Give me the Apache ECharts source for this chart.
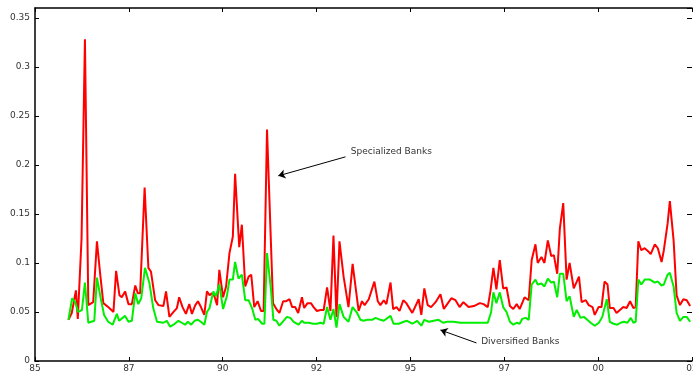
<!DOCTYPE html>
<html>
<head>
<meta charset="utf-8">
<script src="https://cdn.jsdelivr.net/npm/echarts@6/dist/echarts.min.js"></script>
<style>html,body{margin:0;padding:0;background:#fff}#c{width:693px;height:376px}</style>
</head>
<body>
<div id="c"></div>
<script>
// Specialized banks (red)
const specYears = [1985.89,1985.98,1986.09,1986.14,1986.24,1986.33,1986.42,1986.55,1986.65,1986.73,1986.82,1986.95,1987.09,1987.16,1987.25,1987.31,1987.40,1987.49,1987.58,1987.67,1987.74,1987.80,1987.92,1988.02,1988.09,1988.20,1988.29,1988.42,1988.49,1988.58,1988.69,1988.78,1988.84,1988.93,1989.02,1989.11,1989.18,1989.27,1989.34,1989.42,1989.51,1989.58,1989.65,1989.71,1989.78,1989.85,1989.91,1990.01,1990.09,1990.18,1990.27,1990.33,1990.44,1990.51,1990.60,1990.69,1990.76,1990.84,1990.93,1991.02,1991.09,1991.18,1991.34,1991.43,1991.51,1991.61,1991.69,1991.78,1991.85,1991.93,1992.01,1992.11,1992.17,1992.26,1992.35,1992.42,1992.51,1992.60,1992.69,1992.78,1992.87,1992.95,1993.03,1993.11,1993.22,1993.35,1993.46,1993.55,1993.62,1993.71,1993.78,1993.89,1994.04,1994.13,1994.20,1994.29,1994.36,1994.47,1994.54,1994.63,1994.71,1994.81,1994.89,1995.05,1995.22,1995.29,1995.37,1995.46,1995.55,1995.67,1995.80,1995.89,1995.98,1996.09,1996.20,1996.31,1996.41,1996.55,1996.69,1996.85,1996.95,1997.06,1997.13,1997.21,1997.29,1997.38,1997.47,1997.56,1997.65,1997.74,1997.83,1997.91,1998.04,1998.15,1998.23,1998.33,1998.39,1998.49,1998.57,1998.66,1998.75,1998.82,1998.91,1998.98,1999.07,1999.16,1999.24,1999.35,1999.40,1999.49,1999.56,1999.67,1999.75,1999.85,1999.91,2000.01,2000.09,2000.17,2000.25,2000.31,2000.41,2000.49,2000.58,2000.67,2000.76,2000.85,2000.94,2001.00,2001.07,2001.15,2001.24,2001.33,2001.40,2001.51,2001.59,2001.69,2001.75,2001.85,2001.91,2002.01,2002.09,2002.18,2002.27,2002.36,2002.45];
const specValues = [0.042,0.049,0.072,0.043,0.125,0.328,0.057,0.060,0.122,0.091,0.059,0.055,0.050,0.092,0.067,0.065,0.071,0.058,0.058,0.077,0.069,0.069,0.177,0.095,0.091,0.062,0.057,0.056,0.071,0.045,0.050,0.054,0.065,0.055,0.048,0.058,0.048,0.057,0.061,0.055,0.047,0.071,0.067,0.069,0.066,0.057,0.093,0.065,0.076,0.110,0.127,0.191,0.116,0.139,0.076,0.086,0.088,0.055,0.061,0.051,0.051,0.236,0.059,0.053,0.049,0.061,0.061,0.063,0.055,0.055,0.049,0.065,0.054,0.059,0.059,0.055,0.051,0.052,0.052,0.075,0.051,0.128,0.045,0.122,0.086,0.055,0.099,0.072,0.051,0.061,0.057,0.063,0.081,0.061,0.057,0.062,0.058,0.080,0.053,0.055,0.051,0.062,0.059,0.049,0.063,0.047,0.074,0.057,0.055,0.060,0.068,0.053,0.058,0.064,0.062,0.055,0.060,0.055,0.056,0.059,0.058,0.055,0.071,0.095,0.073,0.103,0.074,0.075,0.056,0.053,0.058,0.053,0.065,0.062,0.103,0.119,0.100,0.106,0.100,0.123,0.107,0.108,0.089,0.135,0.161,0.083,0.100,0.074,0.073,0.086,0.060,0.062,0.057,0.055,0.047,0.055,0.055,0.081,0.078,0.054,0.054,0.049,0.052,0.055,0.054,0.061,0.054,0.055,0.122,0.113,0.115,0.112,0.109,0.119,0.115,0.101,0.113,0.140,0.163,0.123,0.067,0.057,0.063,0.062,0.056];

// Diversified banks (green)
const divYears = [1985.89,1985.99,1986.07,1986.15,1986.25,1986.33,1986.42,1986.58,1986.65,1986.75,1986.84,1986.95,1987.07,1987.18,1987.24,1987.40,1987.49,1987.58,1987.67,1987.75,1987.83,1987.93,1988.05,1988.15,1988.25,1988.42,1988.51,1988.60,1988.69,1988.82,1988.91,1989.00,1989.07,1989.16,1989.25,1989.34,1989.42,1989.51,1989.58,1989.65,1989.75,1989.82,1989.91,1990.01,1990.11,1990.18,1990.27,1990.33,1990.42,1990.51,1990.60,1990.69,1990.78,1990.87,1990.94,1991.05,1991.11,1991.18,1991.29,1991.35,1991.43,1991.51,1991.62,1991.71,1991.80,1991.89,1992.02,1992.11,1992.17,1992.29,1992.41,1992.51,1992.60,1992.69,1992.78,1992.87,1992.95,1993.03,1993.11,1993.22,1993.35,1993.46,1993.58,1993.67,1993.75,1993.85,1993.98,1994.07,1994.20,1994.29,1994.47,1994.55,1994.69,1994.82,1994.91,1995.05,1995.18,1995.29,1995.37,1995.49,1995.62,1995.75,1995.87,1995.98,1996.15,1996.33,1996.60,1996.78,1997.06,1997.15,1997.21,1997.29,1997.38,1997.47,1997.56,1997.65,1997.74,1997.83,1997.91,1997.98,1998.07,1998.15,1998.23,1998.33,1998.39,1998.49,1998.57,1998.66,1998.75,1998.82,1998.91,1998.98,1999.07,1999.16,1999.24,1999.35,1999.43,1999.53,1999.62,1999.71,1999.80,1999.91,2000.02,2000.11,2000.23,2000.31,2000.41,2000.51,2000.60,2000.69,2000.78,2000.87,2000.94,2001.00,2001.07,2001.15,2001.24,2001.38,2001.51,2001.59,2001.69,2001.75,2001.85,2001.91,2002.01,2002.09,2002.18,2002.27,2002.36,2002.45];
const divValues = [0.042,0.064,0.060,0.050,0.052,0.080,0.039,0.041,0.085,0.064,0.047,0.040,0.037,0.048,0.041,0.046,0.040,0.041,0.069,0.058,0.064,0.095,0.079,0.054,0.040,0.039,0.041,0.035,0.037,0.041,0.039,0.037,0.040,0.037,0.041,0.042,0.040,0.037,0.050,0.054,0.071,0.066,0.078,0.053,0.066,0.083,0.083,0.101,0.084,0.088,0.062,0.062,0.054,0.042,0.043,0.038,0.038,0.110,0.071,0.042,0.041,0.036,0.041,0.045,0.044,0.040,0.037,0.041,0.039,0.039,0.038,0.038,0.039,0.038,0.055,0.042,0.053,0.034,0.058,0.045,0.040,0.055,0.049,0.042,0.041,0.042,0.042,0.044,0.042,0.041,0.046,0.038,0.038,0.040,0.041,0.038,0.041,0.036,0.042,0.040,0.041,0.042,0.039,0.040,0.040,0.039,0.039,0.039,0.039,0.050,0.070,0.059,0.070,0.055,0.050,0.040,0.037,0.039,0.038,0.043,0.044,0.042,0.078,0.083,0.078,0.079,0.076,0.084,0.080,0.081,0.065,0.089,0.089,0.061,0.066,0.045,0.052,0.044,0.045,0.042,0.039,0.036,0.039,0.045,0.063,0.040,0.038,0.037,0.039,0.040,0.039,0.044,0.039,0.040,0.083,0.078,0.083,0.083,0.080,0.081,0.077,0.078,0.088,0.090,0.076,0.049,0.041,0.045,0.045,0.040];

// axis ticks
const xMin = 1985, xMax = 2002.5, xStep = 2.5;
const yMin = 0, yMax = 0.36, yStep = 0.05;

// annotations
const specLabel = 'Specialized Banks';
const specTextAt = [1993.40, 0.2133];
const specArrow = [[1993.27, 0.2082], [1991.48, 0.1888]];
const divLabel = 'Diversified Banks';
const divTextAt = [1996.87, 0.0194];
const divArrow = [[1996.76, 0.0184], [1995.80, 0.0316]];

const pair = (xs, ys) => xs.map((x, i) => [x, ys[i]]);
const font = 'DejaVu Sans';
const axisLine = { show: true, onZero: false, lineStyle: { color: '#000', width: 1.5 } };
const tick = { show: true, inside: true, length: 4, lineStyle: { color: '#000', width: 1 } };

const chart = echarts.init(document.getElementById('c'), null, { renderer: 'canvas' });
chart.setOption({
  animation: false,
  backgroundColor: '#fff',
  grid: { left: 35, right: 1, top: 8, bottom: 15, containLabel: false, outerBoundsMode: 'none' },
  xAxis: [
    { type: 'value', min: xMin, max: xMax, interval: xStep, position: 'bottom',
      axisLine: axisLine, axisTick: tick, splitLine: { show: false },
      axisLabel: { show: true, margin: 3, color: '#333', fontFamily: font, fontSize: 9,
        formatter: v => String(Math.floor(v + 1e-6) % 100).padStart(2, '0') } },
    { type: 'value', min: xMin, max: xMax, interval: xStep, position: 'top',
      axisLine: axisLine, axisTick: tick, splitLine: { show: false }, axisLabel: { show: false } }
  ],
  yAxis: [
    { type: 'value', min: yMin, max: yMax, interval: yStep, position: 'left',
      axisLine: axisLine, axisTick: tick, splitLine: { show: false },
      axisLabel: { show: true, margin: 5, color: '#333', fontFamily: font, fontSize: 9, showMaxLabel: false,
        formatter: v => { const r = Math.round(v / yStep); return Math.abs(r * yStep - v) < 1e-9 ? String(+(r * yStep).toFixed(2)) : ''; } } },
    { type: 'value', min: yMin, max: yMax, interval: yStep, position: 'right',
      axisLine: { show: false, onZero: false }, axisTick: { show: true, inside: true, length: 5, lineStyle: { color: '#000', width: 1 } },
      splitLine: { show: false }, axisLabel: { show: false } }
  ],
  series: [
    { name: 'Specialized Banks', type: 'line', data: pair(specYears, specValues),
      showSymbol: false, symbol: 'none', lineStyle: { color: '#ff0000', width: 2 }, itemStyle: { color: '#ff0000' },
      z: 2,
      markLine: {
        silent: true, animation: false, symbol: ['none', 'arrow'], symbolSize: 7,
        label: { show: false },
        lineStyle: { color: '#000', width: 1, type: 'solid' },
        data: [
          [{ coord: specArrow[0] }, { coord: specArrow[1] }],
          [{ coord: divArrow[0] }, { coord: divArrow[1] }]
        ]
      },
      markPoint: {
        silent: true, animation: false, symbol: 'circle', symbolSize: 1,
        itemStyle: { color: 'rgba(0,0,0,0)' },
        label: { show: true, position: 'right', distance: 0, color: '#333', fontFamily: font, fontSize: 9 },
        data: [
          { coord: specTextAt, label: { formatter: specLabel } },
          { coord: divTextAt, label: { formatter: divLabel } }
        ]
      }
    },
    { name: 'Diversified Banks', type: 'line', data: pair(divYears, divValues),
      showSymbol: false, symbol: 'none', lineStyle: { color: '#00ee00', width: 2 }, itemStyle: { color: '#00ee00' },
      z: 3 }
  ]
});
</script>
</body>
</html>
